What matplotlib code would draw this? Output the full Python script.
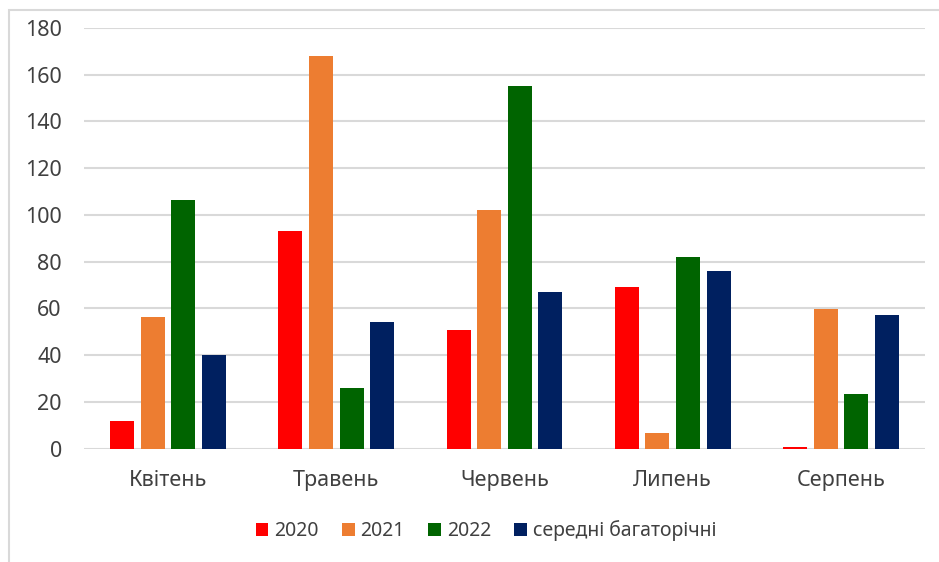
import numpy as np
import matplotlib
matplotlib.use('Agg')
import matplotlib.pyplot as plt
from matplotlib.patches import Rectangle

months = ['Квітень', 'Травень', 'Червень', 'Липень', 'Серпень']
series_names = ['2020', '2021', '2022', 'середні багаторічні']
v2020 = [12, 93, 51, 69, 0.6]
v2021 = [56.3, 168.2, 102, 6.8, 59.7]
v2022 = [106.5, 26, 155, 82, 23.5]
v_avg = [40, 54, 67, 76, 57]
colors = ['#ff0000', '#ed7d31', '#006400', '#002060']

TEXT = '#404040'
GRID = '#d9d9d9'

plt.rcParams['font.family'] = ['Noto Sans', 'DejaVu Sans']

fig = plt.figure(figsize=(9.39, 5.62), dpi=100)
ax = fig.add_axes([84 / 939, 1 - 448.7 / 562, 841 / 939, (448.7 - 28) / 562])

x = np.arange(len(months))
slot = 0.182
width = 0.143
for i, (name, vals) in enumerate(zip(series_names, [v2020, v2021, v2022, v_avg])):
    ax.bar(x + (i - 1.5) * slot, vals, width=width, color=colors[i], label=name, zorder=3)

ax.set_xlim(-0.5, len(months) - 0.5)
ax.set_ylim(0, 180)
ax.set_yticks(range(0, 181, 20))
ax.set_xticks(x)
ax.set_xticklabels(months)
ax.yaxis.grid(True, color=GRID, linewidth=1.5, zorder=0)
ax.set_axisbelow(True)
for s in ax.spines.values():
    s.set_visible(False)
ax.tick_params(axis='both', length=0, colors=TEXT, labelsize=15.5)
ax.tick_params(axis='y', pad=16)
ax.tick_params(axis='x', pad=15)

fig.legend(loc='center', bbox_to_anchor=(486 / 939, 1 - 531 / 562), ncol=4,
           frameon=False, fontsize=14, handlelength=0.65, handleheight=0.65,
           handletextpad=0.3, columnspacing=1.2, labelcolor=TEXT)

fig.patches.append(Rectangle((8.5 / 939, -0.02), 1.0, 1.02 - 10 / 562,
                             transform=fig.transFigure, fill=False,
                             edgecolor=GRID, linewidth=1.5))

fig.savefig('out.png', dpi=100)
